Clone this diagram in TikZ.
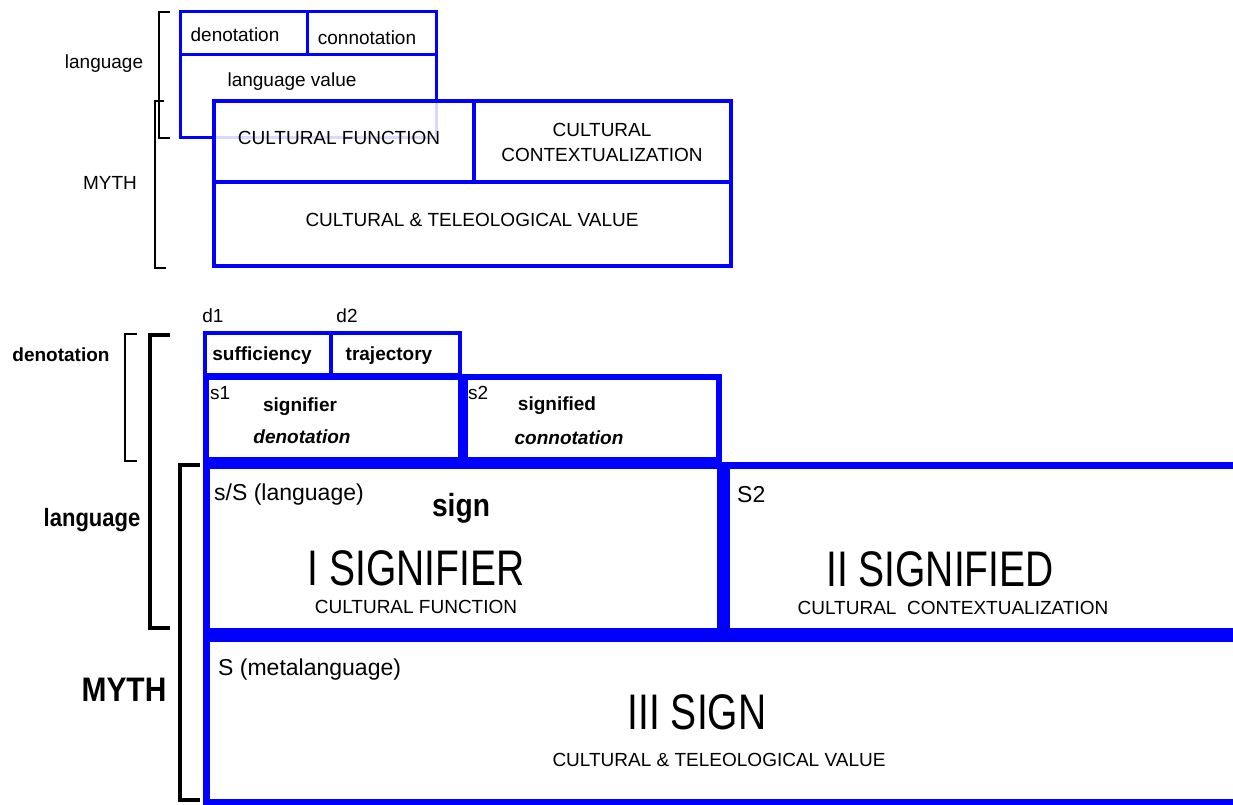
\documentclass[tikz,border=0pt]{standalone}
\usepackage{fontspec}
\setmainfont{Liberation Sans}
\newfontfamily\narrowfont[FakeStretch=0.78]{Liberation Sans}
\newfontfamily\narrowbfont[FakeStretch=0.88]{Liberation Sans}
\usetikzlibrary{fit}
\begin{document}
\begin{tikzpicture}[x=1pt,y=-1pt,
  box/.style={draw=blue, inner sep=0pt, outer sep=0pt, line width=#1},
  box/.default=3pt,
  brk/.style={draw=black, line width=#1, line cap=butt, line join=miter},
  brk/.default=2pt,
  t/.style={inner sep=0pt, font=\fontsize{19}{22}\selectfont},
  tb/.style={inner sep=0pt, font=\fontsize{19}{22}\selectfont\bfseries},
  tbi/.style={inner sep=0pt, font=\fontsize{19}{22}\selectfont\bfseries\itshape},
  tm/.style={inner sep=0pt, font=\fontsize{23}{26}\selectfont},
  big/.style={inner sep=0pt, font=\narrowfont\fontsize{50}{56}\selectfont},
  bigb/.style={inner sep=0pt, font=\narrowbfont\bfseries\fontsize{#1}{#1}\selectfont}
]
\useasboundingbox (0,0) rectangle (1233,805);
\fill[white] (0,0) rectangle (1233,805);

% ---------------- top diagram ----------------
\node[box=3pt, fit={(180,12) (307,55)}] (den) {};
\node[box=3pt, fit={(307,12) (436,55)}] (con) {};
\node[box=3pt, fit={(180,55) (436,138)}] (lv) {};
\node[box=4.5pt, fill=white, fill opacity=0.85, fit={(214,101) (474,182)}] (cf) {};
\node[box=4.5pt, fit={(474,101) (731,182)}] (cc) {};
\node[box=4.5pt, fit={(214,182) (731,266)}] (ctv) {};

\node[t] (denT) at (235,35) {denotation};
\node[t] (conT) at (367,38) {connotation};
\node[t] (lvT) at (292,82) {language value};
\node[t] (cfT) at (339,138) {CULTURAL FUNCTION};
\node[t, align=center] (ccT) at (602,142) {CULTURAL\\[3pt]CONTEXTUALIZATION};
\node[t] (ctvT) at (472,220) {CULTURAL \& TELEOLOGICAL VALUE};

% brackets top
\draw[brk=2pt] (170,12) -- (159,12) -- (159,138) -- (170,138);
\draw[brk=2pt] (164,101) -- (155,101) -- (155,268) -- (166,268);
\node[t] (langT) at (104,64) {language};
\node[t] (mythT) at (110,183) {MYTH};

% ---------------- bottom diagram ----------------
\node[box=4pt, fit={(205,333) (331,375)}] (suf) {};
\node[box=4pt, fit={(331,333) (460,375)}] (traj) {};
\draw[blue, line width=3pt] (suf.north west) -- (traj.north east);
\node[box=6pt, fit={(206,377) (461,460)}] (s1) {};
\node[box=6pt, fit={(465,377) (719,460)}] (s2) {};
\node[box=7pt, fit={(206,465) (720,631)}] (sign) {};
\node[box=7pt, fit={(726,465) (1260,631)}] (S2) {};
\node[box=7pt, fit={(206,638) (1260,802)}] (meta) {};

\node[t] (d1) at (213,316) {d1};
\node[t] (d2) at (347,316) {d2};
\node[tb] (sufT) at (262,356) {sufficiency};
\node[tb] (trajT) at (389,356) {trajectory};
\node[t, anchor=west] (s1T) at (210,393) {s1};
\node[tb] (sigfT) at (300,407) {signifier};
\node[tbi] (denT2) at (302,437) {denotation};
\node[t, anchor=west] (s2T) at (468,393) {s2};
\node[tb] (sigdT) at (557,406) {signified};
\node[tbi] (conT2) at (569,438) {connotation};

\node[tm, anchor=west] (ssT) at (214,495) {s/S (language)};
\node[bigb=32] (signT) at (461,508) {sign};
\node[big] (ISig) at (416,568) {I SIGNIFIER};
\node[t] (cfT2) at (416,607) {CULTURAL FUNCTION};

\node[tm, anchor=west] (S2T) at (737,495) {S2};
\node[big] (IISig) at (940,569) {II SIGNIFIED};
\node[t] (ccT2) at (953,608) {CULTURAL\ \ CONTEXTUALIZATION};

\node[tm, anchor=west] (metaT) at (218,670) {S (metalanguage)};
\node[big] (IIISig) at (697,712) {III SIGN};
\node[t] (ctvT2) at (719,760) {CULTURAL \& TELEOLOGICAL VALUE};

% brackets bottom
\draw[brk=2pt] (137,334) -- (125,334) -- (125,461) -- (137,461);
\draw[brk=4pt] (170,335) -- (150,335) -- (150,628) -- (170,628);
\draw[brk=4pt] (200,465) -- (180,465) -- (180,800) -- (200,800);
\node[tb] (denL) at (61,355) {denotation};
\node[bigb=25] (langL) at (92,520) {language};
\node[bigb=34] (mythL) at (124,690) {MYTH};
\end{tikzpicture}
\end{document}
